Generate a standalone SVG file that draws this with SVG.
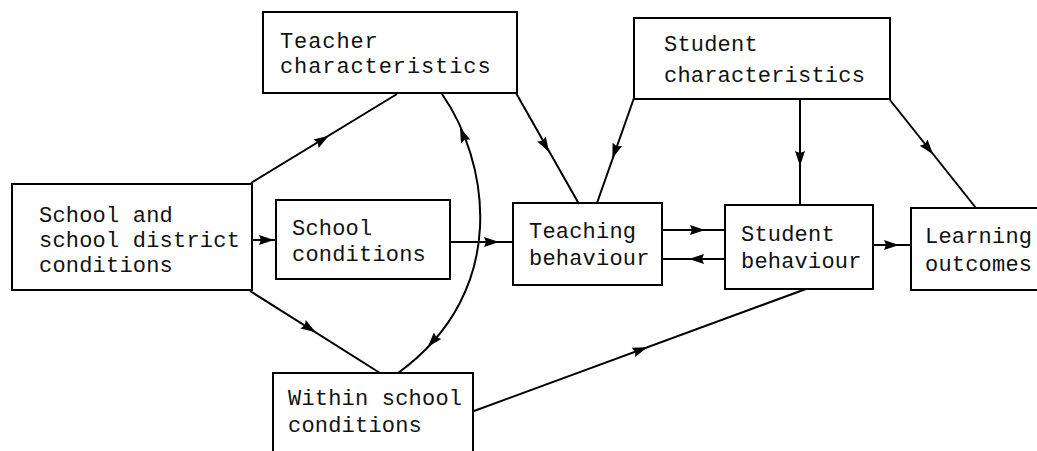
<svg xmlns="http://www.w3.org/2000/svg" xmlns:xlink="http://www.w3.org/1999/xlink" width="1037" height="451" viewBox="0 0 1037 451">
<style>
.box{fill:none;stroke:#000;stroke-width:2}
.ln{fill:none;stroke:#000;stroke-width:2}
text{font-family:"Liberation Mono","DejaVu Sans Mono",monospace;font-size:22px;letter-spacing:0.2px;fill:#111}
.wide{letter-spacing:0.9px}
.ah{fill:#000}
</style>
<defs>
<path id="ah" class="ah" d="M8,0 L-7,-5 L-5,0 L-7,5 Z"/>
</defs>
<rect width="1037" height="451" fill="#fff"/>
<g id="connectors">
<line class="ln" x1="251" y1="183" x2="397" y2="94"/>
<line class="ln" x1="250" y1="291" x2="380" y2="373"/>
<path class="ln" d="M442,94 C488,160 512,290 398,373"/>
<line class="ln" x1="516" y1="93" x2="579" y2="204"/>
<line class="ln" x1="634" y1="98" x2="597" y2="203"/>
<line class="ln" x1="800" y1="99" x2="800" y2="205"/>
<line class="ln" x1="890" y1="100" x2="976" y2="208"/>
<line class="ln" x1="252" y1="240" x2="276" y2="240"/>
<line class="ln" x1="450" y1="242" x2="513" y2="242"/>
<line class="ln" x1="662" y1="230" x2="725" y2="230"/>
<line class="ln" x1="662" y1="259" x2="725" y2="259"/>
<line class="ln" x1="873" y1="245" x2="911" y2="245"/>
<line class="ln" x1="474" y1="411" x2="806" y2="289"/>
<use xlink:href="#ah" transform="translate(322,140) rotate(-31.4)"/>
<use xlink:href="#ah" transform="translate(309,328) rotate(32.2)"/>
<use xlink:href="#ah" transform="translate(463,135) rotate(-112)"/>
<use xlink:href="#ah" transform="translate(433,341) rotate(131.7)"/>
<use xlink:href="#ah" transform="translate(545,145) rotate(59.9)"/>
<use xlink:href="#ah" transform="translate(615,151) rotate(109.4)"/>
<use xlink:href="#ah" transform="translate(800,158) rotate(90)"/>
<use xlink:href="#ah" transform="translate(928,148) rotate(51.5)"/>
<use xlink:href="#ah" transform="translate(266,240)"/>
<use xlink:href="#ah" transform="translate(491,242)"/>
<use xlink:href="#ah" transform="translate(697,230)"/>
<use xlink:href="#ah" transform="translate(697,259) rotate(180)"/>
<use xlink:href="#ah" transform="translate(891,245)"/>
<use xlink:href="#ah" transform="translate(640,350) rotate(-20.2)"/>
</g>
<g id="teacher-characteristics">
<rect class="box" x="263" y="12" width="254" height="81"/>
<text class="wide" x="280" y="48">Teacher</text>
<text class="wide" x="280" y="73">characteristics</text>
</g>
<g id="student-characteristics">
<rect class="box" x="634" y="18" width="256" height="81"/>
<text x="664" y="51">Student</text>
<text x="664" y="82">characteristics</text>
</g>
<g id="school-district-conditions">
<rect class="box" x="12" y="184" width="240" height="106"/>
<text x="39" y="222">School and</text>
<text x="39" y="247">school district</text>
<text x="39" y="272">conditions</text>
</g>
<g id="school-conditions">
<rect class="box" x="276" y="200" width="174" height="79"/>
<text x="292" y="235">School</text>
<text x="292" y="261">conditions</text>
</g>
<g id="teaching-behaviour">
<rect class="box" x="513" y="203" width="149" height="82"/>
<text x="529" y="238">Teaching</text>
<text x="529" y="265">behaviour</text>
</g>
<g id="student-behaviour">
<rect class="box" x="725" y="205" width="148" height="84"/>
<text x="741" y="241">Student</text>
<text x="741" y="268">behaviour</text>
</g>
<g id="learning-outcomes">
<path class="box" d="M1040,208 H911 V290 H1040"/>
<text x="925" y="243">Learning</text>
<text x="925" y="271">outcomes</text>
</g>
<g id="within-school-conditions">
<path class="box" d="M273,455 V373 H473 V455"/>
<text x="288" y="405">Within school</text>
<text x="288" y="432">conditions</text>
</g>
</svg>
